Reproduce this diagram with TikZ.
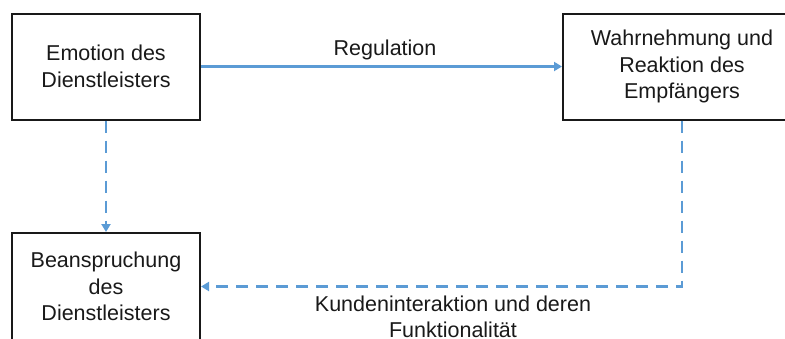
\documentclass[tikz,border=0pt]{standalone}
\usepackage{fontspec}
\setmainfont{Liberation Sans}
\usetikzlibrary{arrows.meta}
\definecolor{flowblue}{RGB}{91,155,213}
\begin{document}
\begin{tikzpicture}[x=1pt,y=-1pt,
  every node/.style={font=\fontsize{21.5}{26.5}\selectfont, inner sep=0pt, text=black!90},
  block/.style={draw=black!90, line width=2pt, align=center, minimum height=106pt},
  flow/.style={draw=flowblue, line width=2.8pt, -{Triangle[length=8pt,width=9pt]}},
  dflow/.style={flow, dash pattern=on 12pt off 8pt},
  lbl/.style={align=center}]
  \useasboundingbox (0,0) rectangle (785,338);
  % the three blocks
  \node[block, minimum width=188pt] (emo) at (106,66.5) {Emotion des\\Dienstleisters};
  \node[block, minimum width=238pt] (wahr) at (682,66.5) {Wahrnehmung und\\Reaktion des\\Empfängers};
  \node[block, minimum width=188pt, minimum height=107pt] (bean) at (106,286.5) {Beanspruchung\\des\\Dienstleisters};
  % connectors
  \draw[flow] (emo) -- (wahr);
  \draw[dflow] (emo.south) -- (bean.north);
  \draw[dflow] (wahr.south) |- (bean.east);
  % labels
  \node[lbl, anchor=base] (reg) at (385,55) {Regulation};
  \node[lbl, anchor=north] (kund) at (453,295.5) {Kundeninteraktion und deren\\Funktionalität};
\end{tikzpicture}
\end{document}
